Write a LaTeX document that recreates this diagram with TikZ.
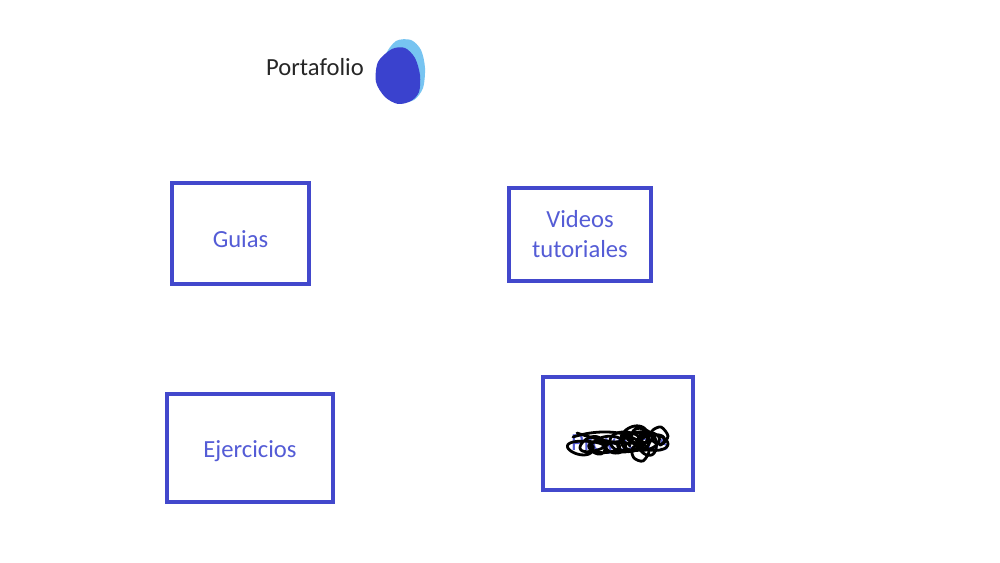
\documentclass[tikz,border=0pt]{standalone}
\usepackage{fontspec}
\setmainfont{Carlito}
\definecolor{boxblue}{RGB}{66,72,204}
\definecolor{txtblue}{RGB}{84,92,214}
\definecolor{blobblue}{RGB}{58,66,206}
\definecolor{blobcyan}{RGB}{60,170,235}
\begin{document}
\begin{tikzpicture}[x=0.03cm,y=-0.03cm,
  card/.style={draw=boxblue, line width=4.2*0.03cm, fill=white, inner sep=0pt},
  cardtext/.style={text=txtblue, font=\fontsize{21}{25.5}\selectfont, align=center},
  scribble/.style={draw=black, line width=2.8*0.03cm, line cap=round, line join=round}]
\useasboundingbox (0,0) rectangle (1000,563);
\fill[white] (0,0) rectangle (1000,563);
% title
\node[anchor=base, font=\fontsize{21}{25}\selectfont, text=black!85] (title) at (315,76) {Portafolio};
% blob
\fill[blobcyan!70] plot[smooth cycle] coordinates {(396,41) (411,40) (421,50) (425,68) (423,88) (414,100) (400,102) (388,94) (384,76) (385,56)};
\fill[blobblue] plot[smooth cycle] coordinates {(392,49) (405,48) (415,58) (420,75) (419,92) (411,101) (398,104) (385,97) (376,82) (378,62)};
\coordinate (blob) at (400,72);
% boxes
\draw[card] (172,183) rectangle (309,284);
\node[cardtext] (guias) at (240.5,239) {Guias};
\draw[card] (509,188) rectangle (651,281);
\node[cardtext] (videos) at (580,234) {Videos\\tutoriales};
\draw[card] (167,394) rectangle (333,502);
\node[cardtext] (ejercicios) at (250,451) {Ejercicios};
\draw[card] (543,377) rectangle (693,490);
\node[cardtext] (hidden) at (620,445) {Proyectos};
% scribble
\draw[scribble] plot[domain=0:1800, samples=220, smooth]
  ({580+\x/1800*40+13*cos(\x)*(1+0.3*sin(0.37*\x))}, {446+7*sin(\x)*(1+0.4*cos(0.53*\x))});
\draw[scribble] plot[domain=0:3240, samples=360, smooth]
  ({624+\x/3240*32+12*cos(\x+60)*(1+0.35*sin(0.41*\x))}, {440+9*sin(\x+60)*(1+0.3*cos(0.29*\x))+4*sin(0.17*\x)});
\draw[scribble] (573,437) .. controls (592,431) and (612,430) .. (632,436);
\draw[scribble] (577,433) .. controls (598,440) and (622,446) .. (648,442);
\draw[scribble] plot[smooth cycle] coordinates {(632,449) (641,443) (649,451) (643,461) (634,458)};
\draw[scribble] plot[smooth cycle] coordinates {(652,431) (661,427) (668,436) (662,444) (653,441)};
\end{tikzpicture}
\end{document}
